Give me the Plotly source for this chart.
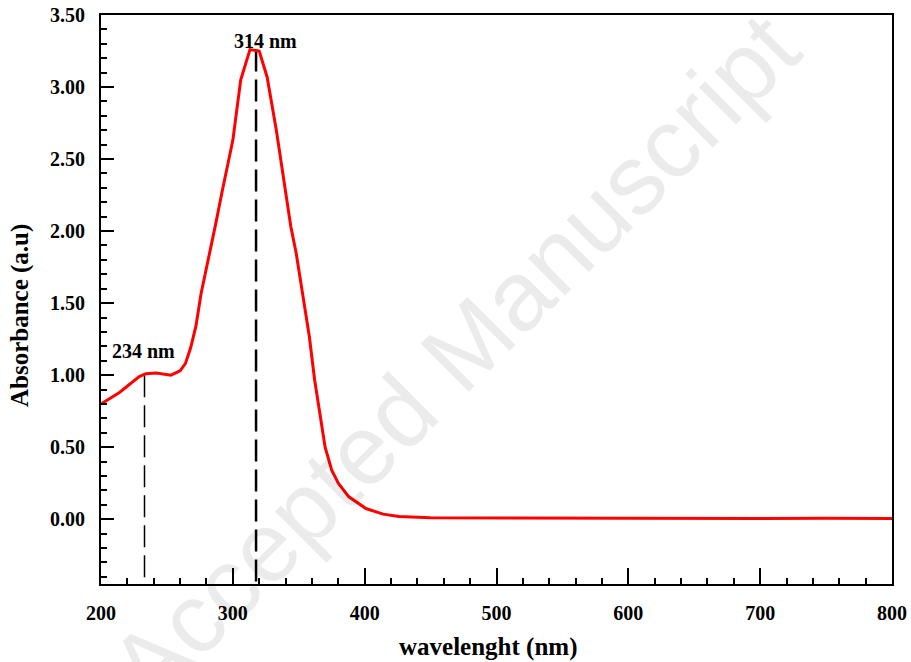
import plotly.graph_objects as go

# UV-Vis absorbance spectrum
wavelength = [200, 214, 229, 234, 242, 253, 260, 264, 268, 272, 276, 281, 287,
              292, 300, 306, 313, 320, 326, 333, 339, 344, 348, 354, 358, 362,
              366, 370, 375, 380, 388, 401, 414, 426, 450, 500, 550, 600, 650,
              700, 750, 800]
absorbance = [0.80, 0.88, 0.99, 1.01, 1.015, 1.00, 1.03, 1.08, 1.19, 1.34, 1.57,
              1.78, 2.05, 2.28, 2.63, 3.05, 3.26, 3.25, 3.07, 2.70, 2.35, 2.03,
              1.85, 1.50, 1.27, 0.97, 0.72, 0.50, 0.34, 0.25, 0.155, 0.074,
              0.035, 0.018, 0.010, 0.008, 0.006, 0.006, 0.004, 0.004, 0.006,
              0.004]

# peak markers
peak_x = [233, 317.6]
peak_y = [1.0, 3.26]
peak_labels = ["234 nm", "314 nm"]
label_x = [232, 325]
label_y = [1.167, 3.32]

x_ticks = [200, 300, 400, 500, 600, 700, 800]
y_ticks = [0.0, 0.5, 1.0, 1.5, 2.0, 2.5, 3.0, 3.5]
y_bottom = -0.45

serif = "Liberation Serif, Times New Roman, serif"

fig = go.Figure()

# dashed drop lines from the peaks
for px_, py_, w in zip(peak_x, peak_y, [1.5, 2.5]):
    fig.add_trace(go.Scatter(
        x=[px_, px_], y=[py_, y_bottom], mode="lines",
        line=dict(color="black", width=w, dash="22px,8px"),
        showlegend=False, hoverinfo="skip"))

fig.add_trace(go.Scatter(
    x=wavelength, y=absorbance, mode="lines",
    line=dict(color="#ff0000", width=3),
    showlegend=False))

for lx, ly, txt in zip(label_x, label_y, peak_labels):
    fig.add_annotation(x=lx, y=ly, text=f"<b>{txt}</b>", showarrow=False,
                       xanchor="center", yanchor="middle",
                       font=dict(family=serif, size=20, color="black"))

# axis titles
fig.add_annotation(xref="paper", yref="paper", x=(488 - 101) / 791, y=-(647 - 584) / 569,
                   xanchor="center", yanchor="middle",
                   text="<b>wavelenght (nm)</b>", showarrow=False,
                   font=dict(family=serif, size=25, color="black"))
fig.add_annotation(xref="paper", yref="paper", x=-(101 - 20) / 791, y=(584 - 316) / 569,
                   xanchor="center", yanchor="middle",
                   text="<b>Absorbance (a.u)</b>", showarrow=False, textangle=-90,
                   font=dict(family=serif, size=25, color="black"))

# watermark
fig.add_annotation(x=468, y=1.12, text="Accepted Manuscript", showarrow=False,
                   xanchor="center", yanchor="middle", textangle=-45,
                   font=dict(family="Liberation Sans, Arial, sans-serif", size=99,
                             color="rgba(0,0,0,0.08)"))

fig.update_xaxes(
    range=[200, 800], tickvals=x_ticks, ticktext=[f"<b>{v}</b>" for v in x_ticks],
    showgrid=False, zeroline=False, showline=True, linecolor="black", linewidth=2,
    mirror=True, ticks="inside", ticklen=16, tickwidth=2, tickcolor="black",
    minor=dict(dtick=20, ticks="inside", ticklen=6, tickwidth=1.5, tickcolor="black"),
    tickfont=dict(family=serif, size=20, color="black"), ticklabelstandoff=10,
    ticklabeloverflow="allow", automargin=False)
fig.update_yaxes(
    range=[y_bottom, 3.5], tickvals=y_ticks, ticktext=[f"<b>{v:.2f}</b>" for v in y_ticks],
    showgrid=False, zeroline=False, showline=True, linecolor="black", linewidth=2,
    mirror=True, ticks="inside", ticklen=13, tickwidth=2, tickcolor="black",
    minor=dict(dtick=0.1, ticks="inside", ticklen=6, tickwidth=1.5, tickcolor="black"),
    tickfont=dict(family=serif, size=20, color="black"), ticklabelstandoff=10,
    ticklabeloverflow="allow", automargin=False)

fig.update_layout(
    width=911, height=662,
    margin=dict(l=101, r=19, t=15, b=78),
    plot_bgcolor="white", paper_bgcolor="white",
)

# drop the default 8px page margin so the figure fills the window
fig.write_html("out.html", config={"displayModeBar": False},
               post_script="document.body.style.margin = '0';")
